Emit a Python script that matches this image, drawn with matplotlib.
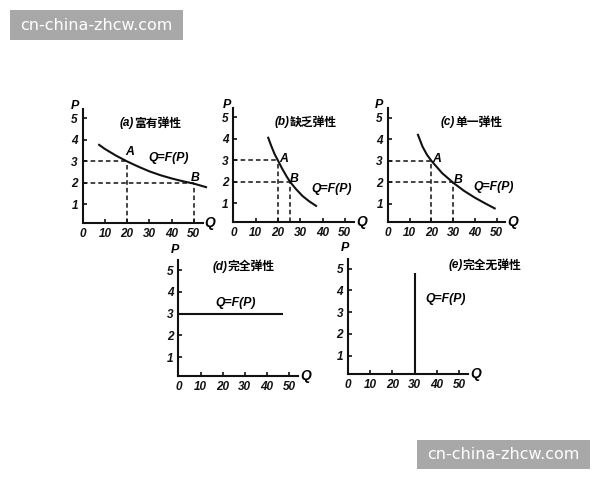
import matplotlib
matplotlib.use("Agg")
import matplotlib.pyplot as plt
from matplotlib.patches import Rectangle

# ---------------- data ----------------
q_ticks = [0, 10, 20, 30, 40, 50]
p_ticks = [1, 2, 3, 4, 5]

a_q = [7, 10, 15, 20, 25, 30, 35, 40, 45, 50, 56]
a_p = [3.8, 3.58, 3.27, 3.0, 2.76, 2.54, 2.36, 2.21, 2.08, 1.97, 1.79]
a_A = (20, 3)
a_B = (50, 2)

b_q = [15.5, 17, 18.5, 20, 22, 24, 25.5, 28, 31, 34, 37.5]
b_p = [4.1, 3.68, 3.3, 3.0, 2.6, 2.24, 2.0, 1.68, 1.35, 1.1, 0.86]
b_A = (20, 3)
b_B = (25.5, 2)

c_q = [13.7, 16, 18, 20, 25, 30, 35, 40, 45, 49.5]
c_p = [4.25, 3.65, 3.28, 3.0, 2.42, 1.98, 1.6, 1.28, 1.0, 0.76]
c_A = (20, 3)
c_B = (30, 2)

d_q = [0, 47]
d_p = [3, 3]

e_q = [30, 30]
e_p = [0.15, 4.8]

titles_prefix = ["(a)", "(b)", "(c)", "(d)", "(e)"]
titles_cn = ["富有弹性", "缺乏弹性", "单一弹性", "完全弹性", "完全无弹性"]
curve_label = "Q=F(P)"
watermark = "cn-china-zhcw.com"

# ---------------- style ----------------
W, H = 600, 480
fig = plt.figure(figsize=(6, 4.8), dpi=100)
fig.patch.set_facecolor("white")

LAT = "Liberation Sans"
CJK = "Noto Sans CJK SC"
FS = 8.5
XMAX, YMIN, YMAX = 54, 0.15, 5.45


def make_axes(left_px, axis_px, ux, uy):
    w = XMAX * ux
    h = (YMAX - YMIN) * uy
    ax = fig.add_axes([left_px / W, 1 - axis_px / H, w / W, h / H])
    ax.set_xlim(0, XMAX)
    ax.set_ylim(YMIN, YMAX)
    for s in ("top", "right"):
        ax.spines[s].set_visible(False)
    for s in ("left", "bottom"):
        ax.spines[s].set_linewidth(1.5)
        ax.spines[s].set_color("#111111")
    ax.set_facecolor("none")
    ax.set_xticks(q_ticks)
    ax.set_yticks(p_ticks)
    ax.tick_params(direction="in", length=3, width=1.2, pad=3.5, colors="#111111")
    for lab in ax.get_xticklabels() + ax.get_yticklabels():
        lab.set_fontfamily(LAT)
        lab.set_fontweight("bold")
        lab.set_fontstyle("italic")
        lab.set_fontsize(FS)
    ax.text(55.0, YMIN, "Q", ha="left", va="center", clip_on=False,
            family=LAT, weight="bold", style="italic", size=10)
    return ax


def add_P(ax, x, y):
    ax.text(x, y, "P", ha="center", va="center", clip_on=False,
            family=LAT, weight="bold", style="italic", size=9)


def add_title(ax, x, y, i):
    t1 = ax.text(x, y, titles_prefix[i], ha="left", va="center", clip_on=False,
                 family=LAT, weight="bold", style="italic", size=FS)
    ax.annotate(titles_cn[i], xy=(1, 0.5), xycoords=t1, ha="left", va="center",
                family=CJK, weight="bold", size=FS, annotation_clip=False)


def add_label(ax, x, y, s, ha="center"):
    ax.text(x, y, s, ha=ha, va="center", clip_on=False,
            family=LAT, weight="bold", style="italic", size=FS + 0.3)


def dashed(ax, pt):
    q, p = pt
    ax.plot([0, q], [p, p], color="#111111", lw=1.1, ls=(0, (3, 2)))
    ax.plot([q, q], [YMIN, p], color="#111111", lw=1.1, ls=(0, (3, 2)))


def curve(ax, q, p):
    ax.plot(q, p, color="#111111", lw=1.5, solid_capstyle="butt", clip_on=False)


# panel (a)
ax = make_axes(82.7, 222.7, 2.22, 21.5)
dashed(ax, a_A); dashed(ax, a_B)
curve(ax, a_q, a_p)
add_P(ax, -3.5, 5.6)
add_title(ax, 16.8, 4.78, 0)
add_label(ax, 21.3, 3.43, "A")
add_label(ax, 50.6, 2.25, "B")
add_label(ax, 29.4, 3.14, curve_label, ha="left")

# panel (b)
ax = make_axes(233.3, 221.7, 2.23, 21.5)
dashed(ax, b_A); dashed(ax, b_B)
curve(ax, b_q, b_p)
add_P(ax, -3.0, 5.6)
add_title(ax, 18.7, 4.78, 1)
add_label(ax, 22.4, 3.05, "A")
add_label(ax, 27.4, 2.15, "B")
add_label(ax, 35.2, 1.68, curve_label, ha="left")

# panel (c)
ax = make_axes(387.7, 222.0, 2.18, 21.5)
dashed(ax, c_A); dashed(ax, c_B)
curve(ax, c_q, c_p)
add_P(ax, -4.0, 5.6)
add_title(ax, 24.4, 4.78, 2)
add_label(ax, 22.5, 3.09, "A")
add_label(ax, 32.4, 2.12, "B")
add_label(ax, 39.1, 1.8, curve_label, ha="left")

# panel (d)
ax = make_axes(178.3, 375.7, 2.22, 21.75)
curve(ax, d_q, d_p)
add_P(ax, -1.5, 5.95)
add_title(ax, 15.6, 5.16, 3)
add_label(ax, 16.5, 3.48, curve_label, ha="left")

# panel (e)
ax = make_axes(348.0, 374.0, 2.22, 21.75)
curve(ax, e_q, e_p)
add_P(ax, -1.5, 5.95)
add_title(ax, 45.2, 5.16, 4)
add_label(ax, 34.7, 3.59, curve_label, ha="left")

# watermarks
for (x0, y0, x1, y1) in [(10, 10, 183, 40), (417, 440, 590, 469)]:
    fig.patches.append(Rectangle((x0 / W, 1 - y1 / H), (x1 - x0) / W, (y1 - y0) / H,
                                 transform=fig.transFigure, facecolor="#a8a8a8",
                                 edgecolor="none", zorder=5))
    fig.text((x0 + x1) / 2 / W, 1 - (y0 + y1) / 2 / H, watermark, color="white",
             ha="center", va="center", family="DejaVu Sans", size=11.5, zorder=6)

fig.savefig("out.png", dpi=100, facecolor="white")
